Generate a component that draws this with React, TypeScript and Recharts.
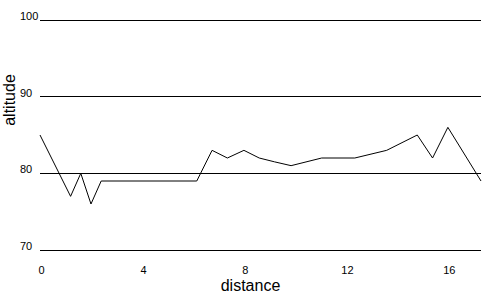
import { CartesianGrid, Label, Line, LineChart, XAxis, YAxis } from "recharts";

const distance = [0, 1.2, 1.6, 2.0, 2.4, 6.15, 6.75, 7.35, 8.0, 8.6, 9.2, 9.85, 11.05, 12.35, 13.6, 14.8, 15.4, 16.0, 17.3];
const altitude = [85, 77, 80, 76, 79, 79, 83, 82, 83, 82, 81.5, 81, 82, 82, 83, 85, 82, 86, 79];
const xTicks = [0, 4, 8, 12, 16];
const yTicks = [70, 80, 90, 100];

const data = distance.map((d, i) => ({ distance: d, altitude: altitude[i] }));

const font = "'Liberation Sans', Arial, sans-serif";

function YTick(props: any) {
  return (
    <text x={20} y={props.y} fontSize={11} fontFamily={font} fill="#000" textAnchor="start">
      {props.payload.value}
    </text>
  );
}

function XTick(props: any) {
  return (
    <text x={props.x} y={props.y} dx={1.5} dy={16} fontSize={11} fontFamily={font} fill="#000" textAnchor="middle">
      {props.payload.value}
    </text>
  );
}

export default function App() {
  return (
    <div style={{ position: "absolute", left: 0, top: 0, background: "#fff" }}>
      <LineChart width={500} height={300} data={data} margin={{ top: 20, right: 19, bottom: 0, left: 0 }}>
        <CartesianGrid vertical={false} stroke="#000" shapeRendering="crispEdges" />
        <XAxis
          dataKey="distance"
          type="number"
          domain={[0, 17.3]}
          ticks={xTicks}
          axisLine={false}
          tickLine={false}
          height={50}
          tick={<XTick />}
        >
          <Label
            value="distance"
            position="insideBottom"
            offset={9}
            dx={-10}
            style={{ fontSize: 16, fontFamily: font, fill: "#000" }}
          />
        </XAxis>
        <YAxis
          type="number"
          domain={[70, 100]}
          ticks={yTicks}
          axisLine={false}
          tickLine={false}
          width={40}
          tick={<YTick />}
        >
          <Label
            value="altitude"
            content={() => (
              <text
                x={15}
                y={100}
                transform="rotate(-90 15 100)"
                textAnchor="middle"
                fontSize={16}
                fontFamily={font}
                fill="#000"
              >
                altitude
              </text>
            )}
          />
        </YAxis>
        <Line
          dataKey="altitude"
          type="linear"
          stroke="#000"
          strokeWidth={1}
          dot={false}
          isAnimationActive={false}
        />
      </LineChart>
    </div>
  );
}
